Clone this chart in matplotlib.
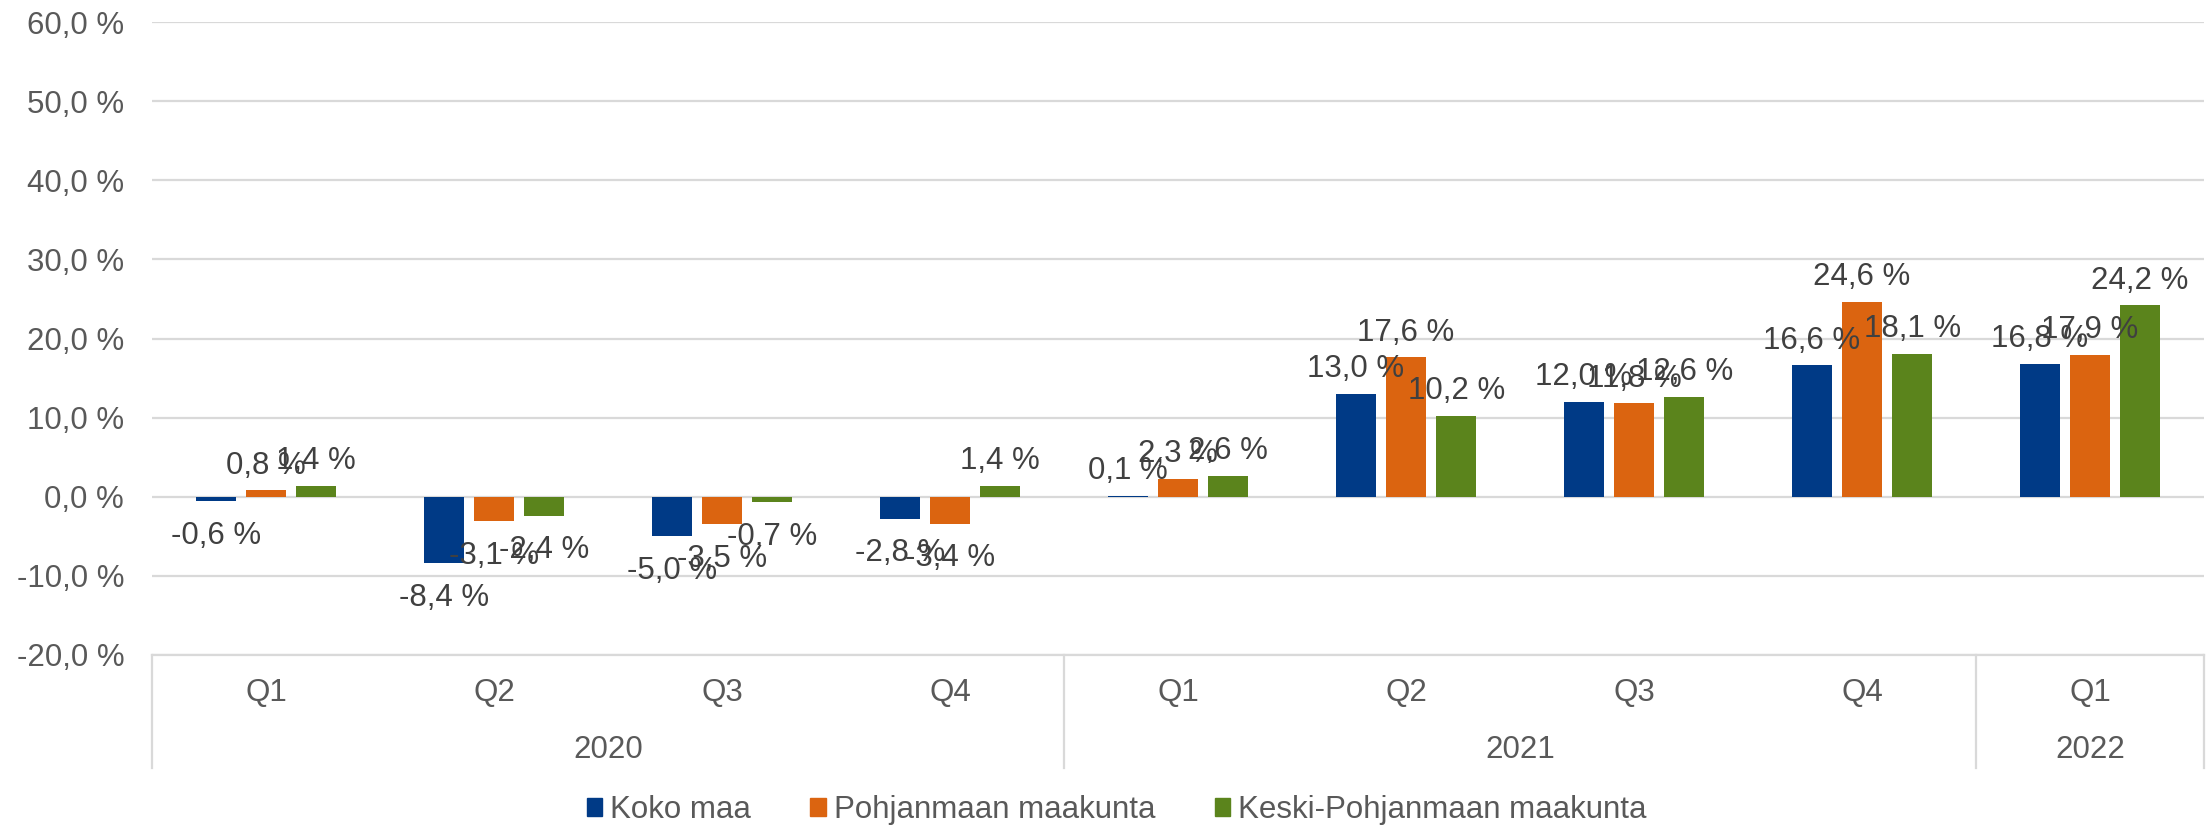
import matplotlib.pyplot as plt
import numpy as np
from matplotlib.patches import Patch
from matplotlib.transforms import blended_transform_factory

plt.rcParams['font.family'] = ['Liberation Sans', 'DejaVu Sans']

quarters = ["Q1", "Q2", "Q3", "Q4", "Q1", "Q2", "Q3", "Q4", "Q1"]
years = ["2020", "2021", "2022"]
year_counts = [4, 4, 1]

series_names = ["Koko maa", "Pohjanmaan maakunta", "Keski-Pohjanmaan maakunta"]
koko_maa = [-0.6, -8.4, -5.0, -2.8, 0.1, 13.0, 12.0, 16.6, 16.8]
pohjanmaa = [0.8, -3.1, -3.5, -3.4, 2.3, 17.6, 11.8, 24.6, 17.9]
keski_pohjanmaa = [1.4, -2.4, -0.7, 1.4, 2.6, 10.2, 12.6, 18.1, 24.2]

colors = ["#003A86", "#DB6410", "#5B841C"]
grid_col = "#D9D9D9"
axis_text = "#595959"
label_text = "#404040"
fs = 22.5


def fmt(v):
    return f"{v:.1f}".replace(".", ",") + " %"


fig = plt.figure(figsize=(22.11, 8.26), dpi=100)
W, H = 2211, 826
left, right, top, bottom = 152, 2204, 22, 655
ax = fig.add_axes([left / W, 1 - bottom / H, (right - left) / W, (bottom - top) / H])

x = np.arange(len(quarters))
bw = 0.175
step = 0.22
all_series = [koko_maa, pohjanmaa, keski_pohjanmaa]
for i, vals in enumerate(all_series):
    xs = x + (i - 1) * step
    ax.bar(xs, vals, width=bw, color=colors[i], zorder=2)
    for xi, v in zip(xs, vals):
        if v >= 0:
            ax.annotate(fmt(v), (xi, v), xytext=(0, 7), textcoords="offset points",
                        ha="center", va="bottom", fontsize=fs, color=label_text, zorder=5)
        else:
            ax.annotate(fmt(v), (xi, v), xytext=(0, -14), textcoords="offset points",
                        ha="center", va="top", fontsize=fs, color=label_text, zorder=5)

ax.set_xlim(-0.5, len(quarters) - 0.5)
ax.set_ylim(-20, 60)
yt = np.arange(-20, 61, 10)
ax.set_yticks(yt)
ax.set_yticklabels([fmt(v) for v in yt])
ax.tick_params(axis="y", length=0, pad=20, labelsize=fs, labelcolor=axis_text)
ax.set_xticks([])
for s in ax.spines.values():
    s.set_visible(False)
for v in yt:
    ax.axhline(v, color=grid_col, lw=1.6, zorder=1)

# category axis box below the plot
trans = blended_transform_factory(ax.transData, ax.transAxes)
box_bottom = -0.1785
ax.plot([-0.5, len(quarters) - 0.5], [0, 0], transform=trans, color=grid_col,
        lw=1.6, clip_on=False)
for xi, q in zip(x, quarters):
    ax.text(xi, -0.06, q, transform=trans, ha="center", va="center",
            fontsize=fs, color=axis_text)
edges = np.concatenate([[0], np.cumsum(year_counts)]) - 0.5
for e in edges:
    ax.plot([e, e], [0, box_bottom], transform=trans, color=grid_col, lw=1.6,
            clip_on=False)
for y, a, b in zip(years, edges[:-1], edges[1:]):
    ax.text((a + b) / 2, -0.15, y, transform=trans, ha="center", va="center",
            fontsize=fs, color=axis_text)

handles = [Patch(color=c) for c in colors]
fig.legend(handles, series_names, loc="center", bbox_to_anchor=(0.505, 1 - 810 / H),
           ncol=3, frameon=False, fontsize=fs, labelcolor=axis_text,
           handlelength=0.5, handleheight=0.5, handletextpad=0.25, columnspacing=1.9,
           borderpad=0, borderaxespad=0)

fig.savefig("out.png", dpi=100)
